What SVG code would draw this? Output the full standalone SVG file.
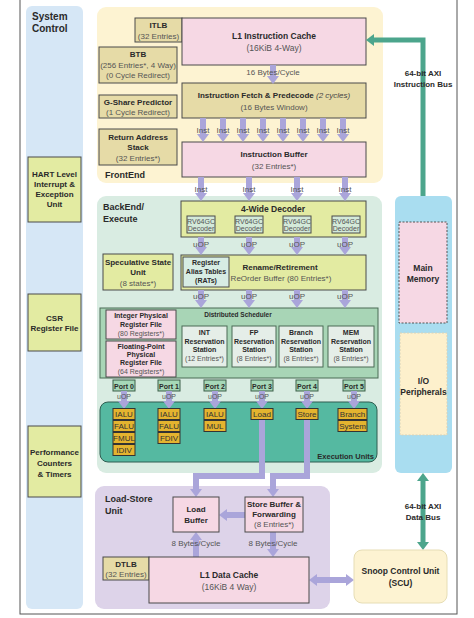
<svg xmlns="http://www.w3.org/2000/svg" width="474" height="618" viewBox="0 0 474 618">
<defs>
<style>
text{font-family:"Liberation Sans",Arial,sans-serif;fill:#2a2a2a;text-anchor:middle}
.b{font-weight:bold;font-size:8px}
.r{font-size:8px;fill:#555}
.h{font-weight:bold;font-size:9px;text-anchor:start}
.sm{font-size:7px;fill:#555}
.sb{font-size:7px;font-weight:bold}
.ex{font-size:8px;fill:#333}
.bd{stroke:#4a4a4a;stroke-width:1}
.pink{fill:#f6d8e4}
.tan{fill:#e6dba7}
.yg{fill:#e3eba2}
.rs{fill:#e5eee8;stroke:#4a6a55;stroke-width:1}
.port{fill:#a6d8b8;stroke:#3d5e48;stroke-width:1}
.eu{fill:#e4b42f;stroke:#333;stroke-width:1}
.arr{fill:none;stroke:#aaa5da;stroke-width:6;marker-end:url(#ah)}
.bus{fill:none;stroke:#4ca58c;stroke-width:5;marker-end:url(#th)}
</style>
<marker id="ah" markerUnits="userSpaceOnUse" markerWidth="8" markerHeight="12" refX="0" refY="6" orient="auto-start-reverse"><path d="M0,0L8,6L0,12z" fill="#aaa5da"/></marker>
<marker id="th" markerUnits="userSpaceOnUse" markerWidth="8" markerHeight="12" refX="0" refY="6" orient="auto-start-reverse"><path d="M0,0L8,6L0,12z" fill="#4ca58c"/></marker>
</defs>

<rect x="20" y="-2" width="437" height="616" fill="#fff" stroke="#555" stroke-width="1"/>

<!-- regions -->
<g id="system-control">
<rect x="26" y="6" width="57" height="603" rx="6" fill="#d6e7f6"/>
<text x="32" y="20" style="font-size:10px;font-weight:bold;text-anchor:start">System</text>
<text x="32" y="32" style="font-size:10px;font-weight:bold;text-anchor:start">Control</text>
</g>
<g id="hart"><rect class="bd yg" x="28" y="157" width="53" height="65"/>
<text class="b" x="54.5" y="177">HART Level</text><text class="b" x="54.5" y="187">Interrupt &amp;</text><text class="b" x="54.5" y="197">Exception</text><text class="b" x="54.5" y="207">Unit</text></g>
<g id="csr"><rect class="bd yg" x="28" y="294" width="53" height="57"/>
<text class="b" x="54.5" y="321">CSR</text><text class="b" x="54.5" y="331">Register File</text></g>
<g id="perf"><rect class="bd yg" x="28" y="426" width="53" height="71"/>
<text class="b" x="54.5" y="455">Performance</text><text class="b" x="54.5" y="466">Counters</text><text class="b" x="54.5" y="477">&amp; Timers</text></g>

<g id="frontend">
<rect x="97" y="7" width="286" height="176" rx="9" fill="#fdf3d2"/>
<text class="h" x="105" y="178">FrontEnd</text>
</g>
<g id="backend">
<rect x="97" y="196" width="285" height="277" rx="9" fill="#d9ece2"/>
<text class="h" x="103" y="210">BackEnd/</text>
<text class="h" x="103" y="222">Execute</text>
</g>
<g id="lsu">
<rect x="95" y="486" width="235" height="123" rx="9" fill="#ddd3e9"/>
<text class="h" x="105" y="502">Load-Store</text>
<text class="h" x="105" y="514">Unit</text>
</g>
<g id="memory-column">
<rect x="395" y="196" width="57" height="277" rx="6" fill="#a9ddf0"/>
</g>
<g id="main-memory"><rect x="399" y="222" width="48" height="101" fill="#f6d8e4" stroke="#555" stroke-width="1" stroke-dasharray="2,1.5"/>
<text class="b" x="423" y="271" style="font-size:8.5px">Main</text><text class="b" x="423" y="282" style="font-size:8.5px">Memory</text></g>
<g id="io"><rect x="400" y="333" width="47" height="102" fill="#fdf0cc" stroke="#d8d2b8" stroke-width="1" stroke-dasharray="2,1.5"/>
<text class="b" x="423.5" y="384" style="font-size:8.5px">I/O</text><text class="b" x="423.5" y="395" style="font-size:8.5px">Peripherals</text></g>

<!-- frontend nodes -->
<g id="itlb"><rect class="bd tan" x="135" y="18" width="47" height="24"/>
<text class="b" x="158.5" y="28">ITLB</text><text class="r" x="158.5" y="38.5">(32 Entries)</text></g>
<g id="l1i"><rect class="bd pink" x="182" y="18" width="184" height="47"/>
<text class="b" x="274" y="39" style="font-size:8.5px">L1 Instruction Cache</text><text class="r" x="274" y="50.5" style="font-size:8.5px">(16KiB 4-Way)</text></g>
<g id="btb"><rect class="bd tan" x="99" y="47" width="78" height="36"/>
<text class="b" x="138" y="57">BTB</text><text class="r" x="138" y="67.5">(256 Entries*, 4 Way)</text><text class="r" x="138" y="78">(0 Cycle Redirect)</text></g>
<g id="gshare"><rect class="bd tan" x="99" y="95" width="78" height="23"/>
<text class="b" x="138" y="104.5">G-Share Predictor</text><text class="r" x="138" y="115">(1 Cycle Redirect)</text></g>
<g id="ras"><rect class="bd tan" x="99" y="129" width="78" height="36"/>
<text class="b" x="138" y="139.5">Return Address</text><text class="b" x="138" y="149.5">Stack</text><text class="r" x="138" y="160.5">(32 Entries*)</text></g>
<g id="fetch"><rect class="bd tan" x="182" y="83" width="184" height="35"/>
<text class="b" x="274" y="98">Instruction Fetch &amp; Predecode <tspan style="font-weight:normal;font-style:italic;fill:#444">(2 cycles)</tspan></text>
<text class="r" x="274" y="109.5">(16 Bytes Window)</text></g>
<g id="ibuf"><rect class="bd pink" x="182" y="142" width="184" height="35"/>
<text class="b" x="274" y="157">Instruction Buffer</text><text class="r" x="274" y="168.5">(32 Entries*)</text></g>

<!-- backend nodes -->
<g id="decoder"><rect class="bd yg" x="181" y="201" width="185" height="36"/>
<text class="b" x="273" y="212" style="font-size:8.5px">4-Wide Decoder</text>
<rect x="187" y="216" width="28" height="17" fill="#d3e9d9" stroke="#4a4a4a"/>
<rect x="235" y="216" width="28" height="17" fill="#d3e9d9" stroke="#4a4a4a"/>
<rect x="283" y="216" width="28" height="17" fill="#d3e9d9" stroke="#4a4a4a"/>
<rect x="332" y="216" width="28" height="17" fill="#d3e9d9" stroke="#4a4a4a"/>
<text class="sm" x="201" y="223.5">RV64GC</text><text class="sm" x="201" y="231">Decoder</text>
<text class="sm" x="249" y="223.5">RV64GC</text><text class="sm" x="249" y="231">Decoder</text>
<text class="sm" x="297" y="223.5">RV64GC</text><text class="sm" x="297" y="231">Decoder</text>
<text class="sm" x="346" y="223.5">RV64GC</text><text class="sm" x="346" y="231">Decoder</text></g>
<g id="spec"><rect class="bd yg" x="103" y="254" width="70" height="36"/>
<text class="b" x="138" y="264.5">Speculative State</text><text class="b" x="138" y="275">Unit</text><text class="r" x="138" y="285.5">(8 states*)</text></g>
<g id="rename"><rect class="bd yg" x="181" y="255" width="185" height="35"/>
<rect x="183" y="257" width="46" height="30" fill="#d7ece4" stroke="#4a4a4a"/>
<text class="sb" x="206" y="264.5">Register</text><text class="sb" x="206" y="273.5">Alias Tables</text><text class="sb" x="206" y="283">(RATs)</text>
<text class="b" x="280" y="269.5">Rename/Retirement</text><text class="r" x="281" y="281">ReOrder Buffer (80 Entries*)</text></g>

<g id="scheduler"><rect x="100" y="308" width="278" height="70" fill="#a8d5b6" stroke="#4a6a55"/>
<text class="sb" x="238" y="316.5" style="font-size:6.5px">Distributed Scheduler</text></g>
<g id="iprf"><rect class="bd pink" x="106" y="310" width="70" height="29"/>
<text class="sb" x="141" y="318">Integer Physical</text><text class="sb" x="141" y="326.5">Register File</text><text class="sm" x="141" y="335.5">(80 Registers*)</text></g>
<g id="fprf"><rect class="bd pink" x="106" y="341" width="70" height="36"/>
<text class="sb" x="141" y="348.5">Floating-Point</text><text class="sb" x="141" y="356.5">Physical</text><text class="sb" x="141" y="365">Register File</text><text class="sm" x="141" y="374">(64 Registers*)</text></g>
<g id="rs-int"><rect class="rs" x="182" y="326" width="45" height="41"/>
<text class="sb" x="204.5" y="335">INT</text><text class="sb" x="204.5" y="343.5">Reservation</text><text class="sb" x="204.5" y="352">Station</text><text class="sm" x="204.5" y="360.5">(12 Entries*)</text></g>
<g id="rs-fp"><rect class="rs" x="232" y="326" width="44" height="41"/>
<text class="sb" x="254" y="335">FP</text><text class="sb" x="254" y="343.5">Reservation</text><text class="sb" x="254" y="352">Station</text><text class="sm" x="254" y="360.5">(8 Entries*)</text></g>
<g id="rs-br"><rect class="rs" x="279" y="326" width="44" height="41"/>
<text class="sb" x="301" y="335">Branch</text><text class="sb" x="301" y="343.5">Reservation</text><text class="sb" x="301" y="352">Station</text><text class="sm" x="301" y="360.5">(8 Entries*)</text></g>
<g id="rs-mem"><rect class="rs" x="328" y="326" width="46" height="41"/>
<text class="sb" x="351" y="335">MEM</text><text class="sb" x="351" y="343.5">Reservation</text><text class="sb" x="351" y="352">Station</text><text class="sm" x="351" y="360.5">(8 Entries*)</text></g>

<g id="ports">
<rect class="port" x="113" y="380" width="22" height="11"/><text class="sb" x="124" y="388.5">Port 0</text>
<rect class="port" x="158" y="380" width="22" height="11"/><text class="sb" x="169" y="388.5">Port 1</text>
<rect class="port" x="204" y="380" width="22" height="11"/><text class="sb" x="215" y="388.5">Port 2</text>
<rect class="port" x="251" y="380" width="22" height="11"/><text class="sb" x="262" y="388.5">Port 3</text>
<rect class="port" x="296" y="380" width="22" height="11"/><text class="sb" x="307" y="388.5">Port 4</text>
<rect class="port" x="343" y="380" width="22" height="11"/><text class="sb" x="354" y="388.5">Port 5</text>
</g>

<g id="exec-units">
<rect x="100" y="402" width="277" height="60" rx="8" fill="#55b9a1" stroke="#2f5d50"/>
<text x="374" y="459" style="font-size:7.5px;font-weight:bold;text-anchor:end">Execution Units</text>
</g>

<!-- connectors -->
<g id="connectors">
<path class="arr" d="M273,65V76"/>
<path class="arr" d="M203,118V134"/><path class="arr" d="M223,118V134"/><path class="arr" d="M243,118V134"/><path class="arr" d="M263,118V134"/>
<path class="arr" d="M283,118V134"/><path class="arr" d="M303,118V134"/><path class="arr" d="M323,118V134"/><path class="arr" d="M343,118V134"/>
<path class="arr" d="M201,177V193"/><path class="arr" d="M249,177V193"/><path class="arr" d="M297,177V193"/><path class="arr" d="M345,177V193"/>
<path class="arr" d="M201,237V247"/><path class="arr" d="M249,237V247"/><path class="arr" d="M297,237V247"/><path class="arr" d="M345,237V247"/>
<path class="arr" d="M201,290V300"/><path class="arr" d="M249,290V300"/><path class="arr" d="M297,290V300"/><path class="arr" d="M345,290V300"/>
<path class="arr" d="M124,391V401"/><path class="arr" d="M169,391V401"/><path class="arr" d="M215,391V401"/>
<path class="arr" d="M262,391V401"/><path class="arr" d="M307,391V401"/><path class="arr" d="M354,391V401"/>
<path class="arr" d="M262,420V476H196V489"/>
<path class="arr" d="M307,420V476H273V489"/>
<path class="arr" d="M245,515H227"/>
<path class="arr" d="M196,557V540"/>
<path class="arr" d="M273,532V549"/>
<path class="arr" d="M317,580H346" style="marker-start:url(#ah)"/>
<path class="bus" d="M423,196V40H374"/>
<path class="bus" d="M423,481V542" style="marker-start:url(#th)"/>
</g>

<g id="arrow-labels">
<text class="r" x="273" y="75">16 Bytes/Cycle</text>
<text class="r" x="203" y="133">Inst</text><text class="r" x="223" y="133">Inst</text><text class="r" x="243" y="133">Inst</text><text class="r" x="263" y="133">Inst</text>
<text class="r" x="283" y="133">Inst</text><text class="r" x="303" y="133">Inst</text><text class="r" x="323" y="133">Inst</text><text class="r" x="343" y="133">Inst</text>
<text class="r" x="201" y="192">Inst</text><text class="r" x="249" y="192">Inst</text><text class="r" x="297" y="192">Inst</text><text class="r" x="345" y="192">Inst</text>
<text class="r" x="201" y="246.5">uOP</text><text class="r" x="249" y="246.5">uOP</text><text class="r" x="297" y="246.5">uOP</text><text class="r" x="345" y="246.5">uOP</text>
<text class="r" x="201" y="299">uOP</text><text class="r" x="249" y="299">uOP</text><text class="r" x="297" y="299">uOP</text><text class="r" x="345" y="299">uOP</text>
<text class="sm" x="124" y="399">uOP</text><text class="sm" x="169" y="399">uOP</text><text class="sm" x="215" y="399">uOP</text>
<text class="sm" x="262" y="399">uOP</text><text class="sm" x="307" y="399">uOP</text><text class="sm" x="354" y="399">uOP</text>
<text class="r" x="196" y="546">8 Bytes/Cycle</text>
<text class="r" x="273" y="546">8 Bytes/Cycle</text>
<text class="b" x="423" y="76">64-bit AXI</text><text class="b" x="423" y="87">Instruction Bus</text>
<text class="b" x="423" y="509">64-bit AXI</text><text class="b" x="423" y="520">Data Bus</text>
</g>

<!-- execution unit boxes -->
<g id="eu-port0">
<rect class="eu" x="113" y="408.5" width="22" height="11"/><text class="ex" x="124" y="417">IALU</text>
<rect class="eu" x="113" y="420.5" width="22" height="11"/><text class="ex" x="124" y="429">FALU</text>
<rect class="eu" x="113" y="432.5" width="22" height="11"/><text class="ex" x="124" y="441">FMUL</text>
<rect class="eu" x="113" y="444.5" width="22" height="11"/><text class="ex" x="124" y="453">IDIV</text>
</g>
<g id="eu-port1">
<rect class="eu" x="158" y="408.5" width="22" height="11"/><text class="ex" x="169" y="417">IALU</text>
<rect class="eu" x="158" y="420.5" width="22" height="11"/><text class="ex" x="169" y="429">FALU</text>
<rect class="eu" x="158" y="432.5" width="22" height="11"/><text class="ex" x="169" y="441">FDIV</text>
</g>
<g id="eu-port2">
<rect class="eu" x="204" y="408.5" width="22" height="11"/><text class="ex" x="215" y="417">IALU</text>
<rect class="eu" x="204" y="420.5" width="22" height="11"/><text class="ex" x="215" y="429">MUL</text>
</g>
<g id="eu-load"><rect class="eu" x="251" y="408.5" width="22" height="11"/><text class="ex" x="262" y="417">Load</text></g>
<g id="eu-store"><rect class="eu" x="296" y="408.5" width="22" height="11"/><text class="ex" x="307" y="417">Store</text></g>
<g id="eu-port5">
<rect class="eu" x="338" y="408.5" width="29" height="11"/><text class="ex" x="352.5" y="417">Branch</text>
<rect class="eu" x="338" y="420.5" width="29" height="11"/><text class="ex" x="352.5" y="429">System</text>
</g>

<!-- load store nodes -->
<g id="load-buffer"><rect class="bd pink" x="173" y="497" width="46" height="35"/>
<text class="b" x="196" y="512">Load</text><text class="b" x="196" y="522.5">Buffer</text></g>
<g id="store-buffer"><rect class="bd pink" x="245" y="497" width="58" height="35"/>
<text class="b" x="274" y="506.5">Store Buffer &amp;</text><text class="b" x="274" y="516.5">Forwarding</text><text class="r" x="274" y="527">(8 Entries*)</text></g>
<g id="dtlb"><rect class="bd tan" x="103" y="557" width="46" height="23"/>
<text class="b" x="126" y="566.5">DTLB</text><text class="r" x="126" y="576.5">(32 Entries)</text></g>
<g id="l1d"><rect class="bd pink" x="149" y="557" width="160" height="46"/>
<text class="b" x="229" y="577.5" style="font-size:8.5px">L1 Data Cache</text><text class="r" x="229" y="589.5" style="font-size:8.5px">(16KiB 4 Way)</text></g>
<g id="scu"><rect x="354" y="550" width="93" height="53" rx="8" fill="#fdf3d2" stroke="#e6ddb5"/>
<text class="b" x="400.5" y="574" style="font-size:8.5px">Snoop Control Unit</text><text class="b" x="400.5" y="586" style="font-size:8.5px">(SCU)</text></g>
</svg>
